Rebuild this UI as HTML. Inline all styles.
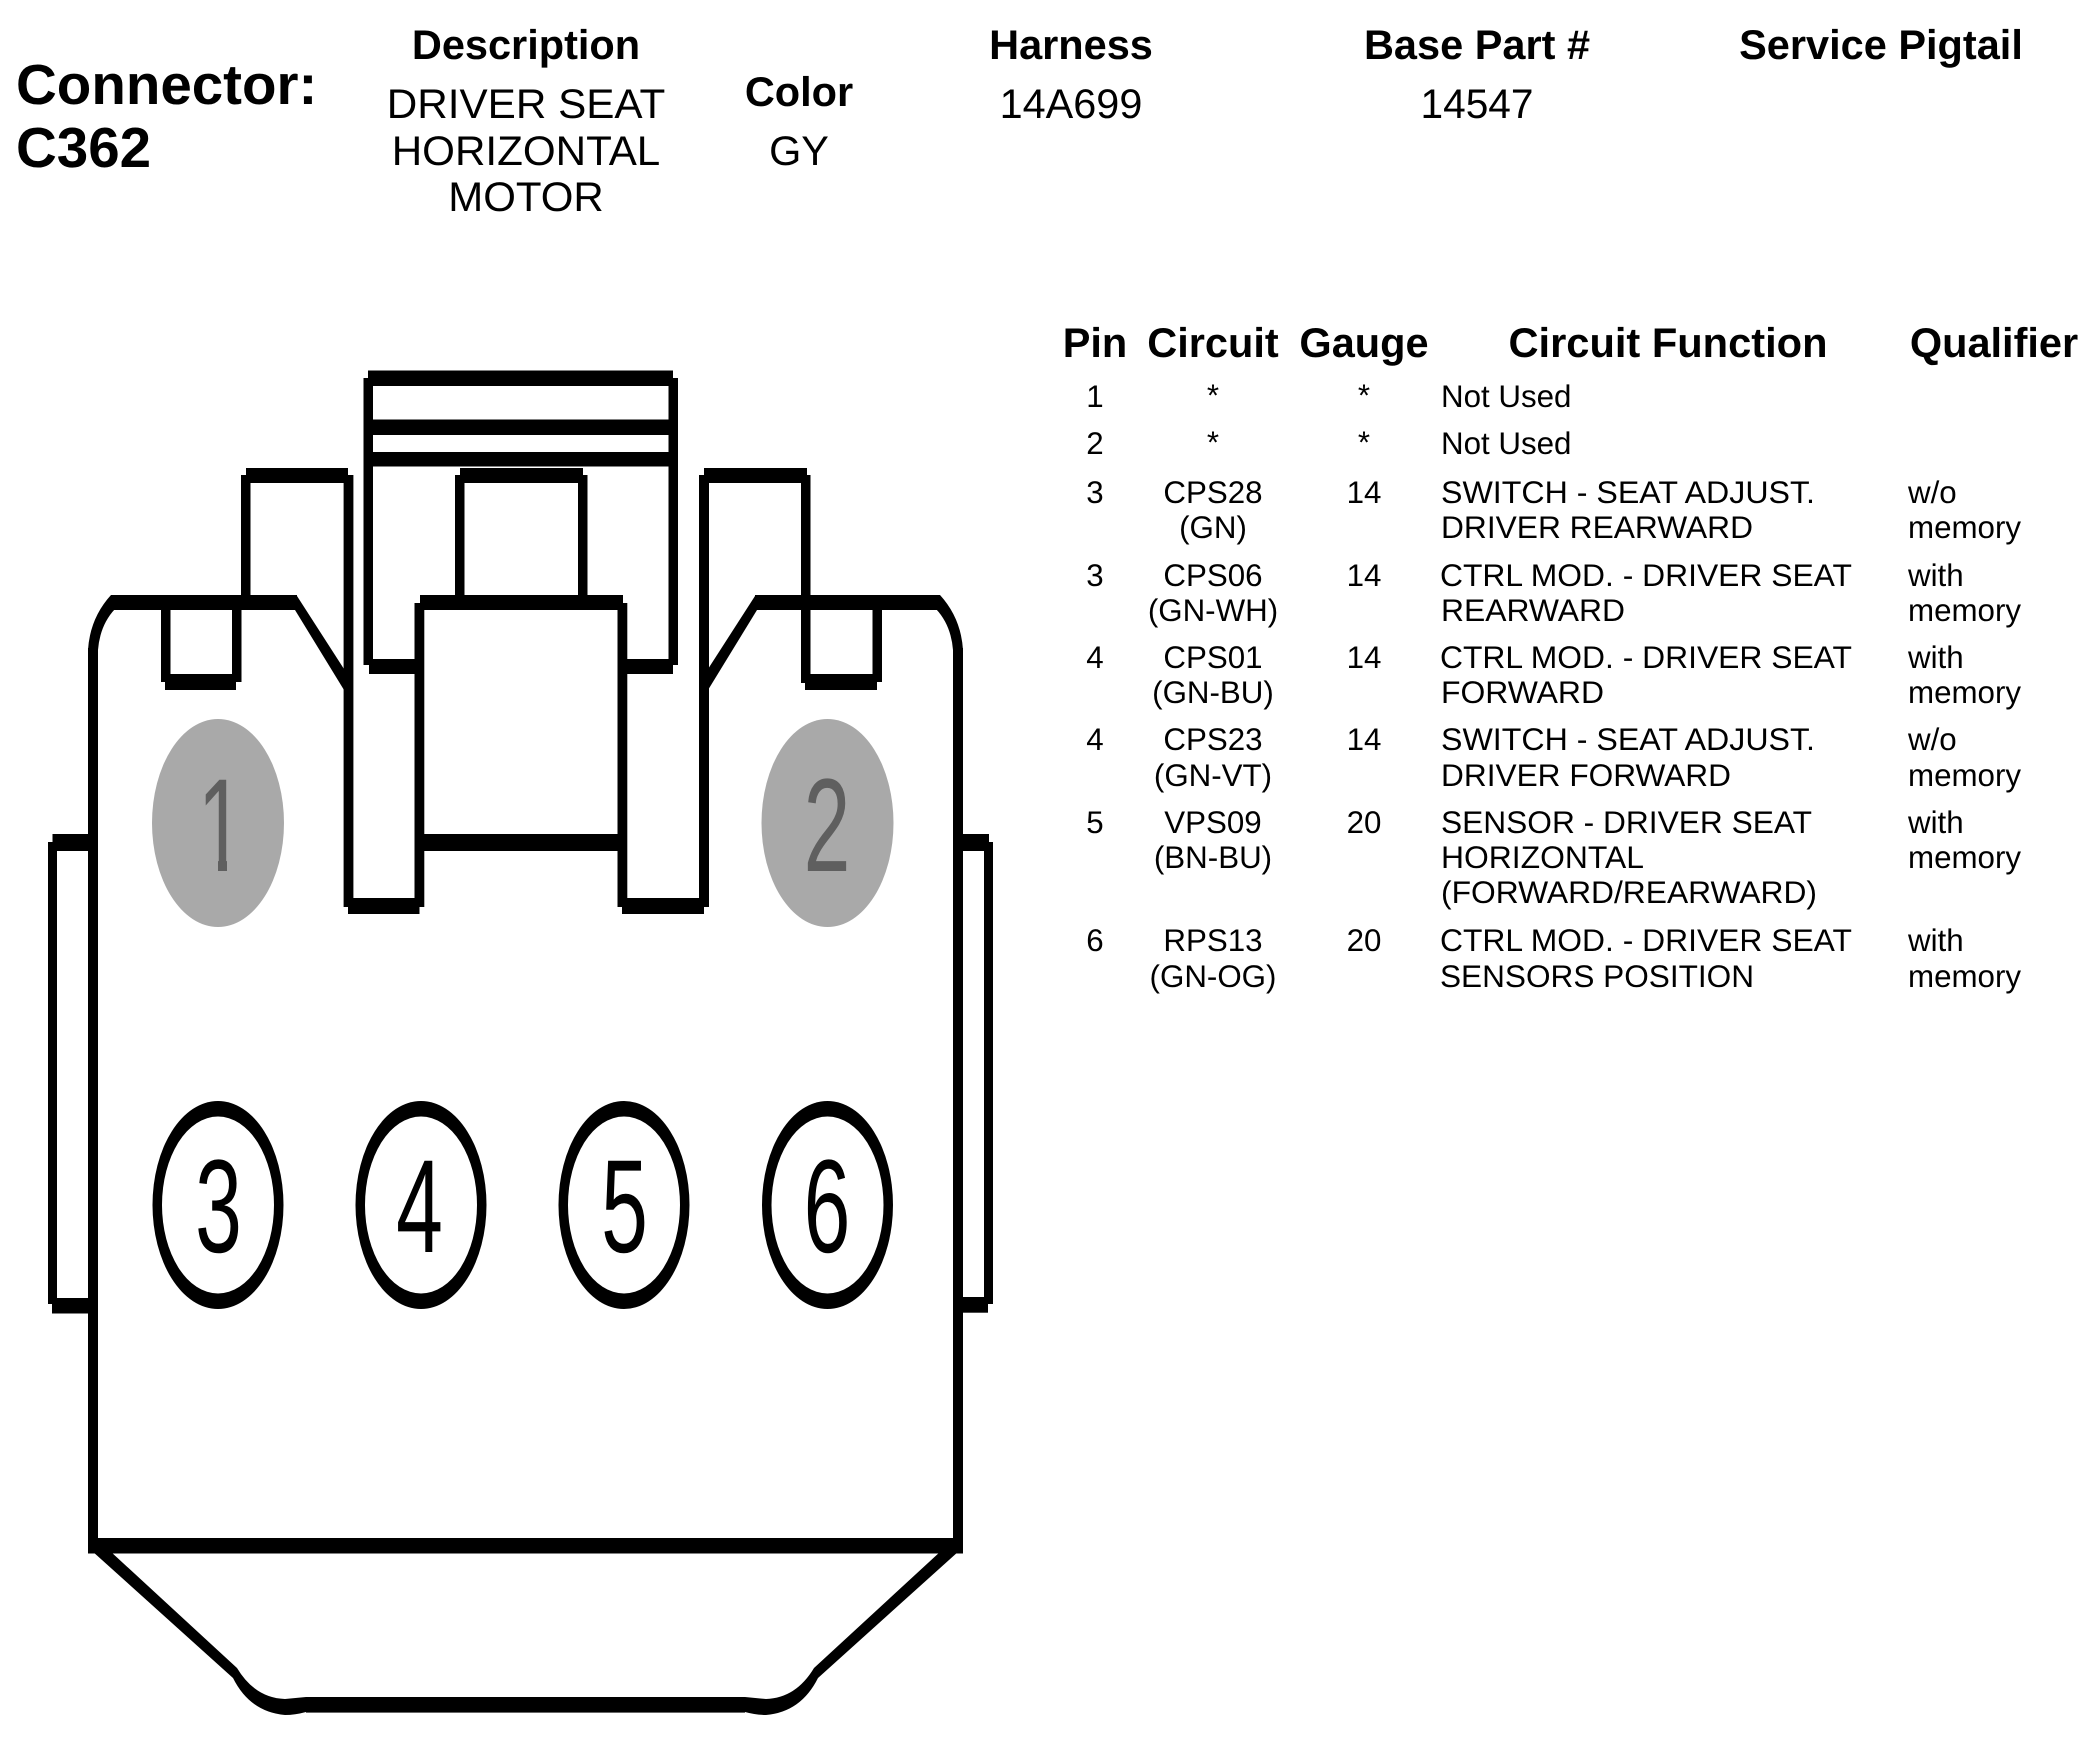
<!DOCTYPE html>
<html>
<head>
<meta charset="utf-8">
<title>Connector C362</title>
<style>
html,body{margin:0;padding:0;background:#fff;width:2097px;height:1745px;overflow:hidden}
svg{display:block}
text{font-family:"Liberation Sans",Arial,sans-serif;fill:#000;text-rendering:geometricPrecision}
.h{font-weight:bold;font-size:41.5px;text-anchor:middle}
.v{font-size:41.4px;text-anchor:middle}
.c{font-size:56.5px;font-weight:bold}
.t{font-size:31.3px}
.m{font-size:31.3px;text-anchor:middle}
.d{font-size:84px;text-anchor:middle}
.g{fill:#5f5f5f}
</style>
</head>
<body>
<svg width="2097" height="1745" viewBox="0 0 2097 1745" xmlns="http://www.w3.org/2000/svg">
<rect width="2097" height="1745" fill="#fff"/>

<!-- Header -->
<text class="c" x="16" y="104">Connector:</text>
<text class="c" x="16" y="167">C362</text>
<text class="h" x="526" y="59">Description</text>
<text class="v" x="526" y="118" textLength="278.5" lengthAdjust="spacingAndGlyphs">DRIVER SEAT</text>
<text class="v" x="526" y="165" textLength="268.5" lengthAdjust="spacingAndGlyphs">HORIZONTAL</text>
<text class="v" x="526" y="211" textLength="155.5" lengthAdjust="spacingAndGlyphs">MOTOR</text>
<text class="h" x="799" y="106">Color</text>
<text class="v" x="799" y="165">GY</text>
<text class="h" x="1071" y="59">Harness</text>
<text class="v" x="1071" y="118">14A699</text>
<text class="h" x="1477" y="59">Base Part #</text>
<text class="v" x="1477" y="118" textLength="113" lengthAdjust="spacingAndGlyphs">14547</text>
<text class="h" x="1881" y="59">Service Pigtail</text>

<!-- Table header -->
<text class="h" x="1095" y="357">Pin</text>
<text class="h" x="1213" y="357">Circuit</text>
<text class="h" x="1364" y="357">Gauge</text>
<text class="h" x="1668" y="357" textLength="319" lengthAdjust="spacingAndGlyphs">Circuit Function</text>
<text class="h" x="1994" y="357">Qualifier</text>

<!-- Table rows -->
<text class="m" x="1095" y="407">1</text><text class="m" x="1213" y="406">*</text><text class="m" x="1364" y="406">*</text><text class="t" x="1441" y="407">Not Used</text>
<text class="m" x="1095" y="454">2</text><text class="m" x="1213" y="453">*</text><text class="m" x="1364" y="453">*</text><text class="t" x="1441" y="454">Not Used</text>

<text class="m" x="1095" y="503">3</text><text class="m" x="1213" y="503">CPS28</text><text class="m" x="1364" y="503">14</text><text class="t" x="1441" y="503" textLength="374" lengthAdjust="spacingAndGlyphs">SWITCH - SEAT ADJUST.</text><text class="t" x="1908" y="503">w/o</text>
<text class="m" x="1213" y="538">(GN)</text><text class="t" x="1441" y="538" textLength="312" lengthAdjust="spacingAndGlyphs">DRIVER REARWARD</text><text class="t" x="1908" y="538">memory</text>

<text class="m" x="1095" y="586">3</text><text class="m" x="1213" y="586">CPS06</text><text class="m" x="1364" y="586">14</text><text class="t" x="1440" y="586" textLength="412" lengthAdjust="spacingAndGlyphs">CTRL MOD. - DRIVER SEAT</text><text class="t" x="1908" y="586">with</text>
<text class="m" x="1213" y="621">(GN-WH)</text><text class="t" x="1441" y="621" textLength="184" lengthAdjust="spacingAndGlyphs">REARWARD</text><text class="t" x="1908" y="621">memory</text>

<text class="m" x="1095" y="668">4</text><text class="m" x="1213" y="668">CPS01</text><text class="m" x="1364" y="668">14</text><text class="t" x="1440" y="668" textLength="412" lengthAdjust="spacingAndGlyphs">CTRL MOD. - DRIVER SEAT</text><text class="t" x="1908" y="668">with</text>
<text class="m" x="1213" y="703">(GN-BU)</text><text class="t" x="1441" y="703" textLength="163" lengthAdjust="spacingAndGlyphs">FORWARD</text><text class="t" x="1908" y="703">memory</text>

<text class="m" x="1095" y="750">4</text><text class="m" x="1213" y="750">CPS23</text><text class="m" x="1364" y="750">14</text><text class="t" x="1441" y="750" textLength="374" lengthAdjust="spacingAndGlyphs">SWITCH - SEAT ADJUST.</text><text class="t" x="1908" y="750">w/o</text>
<text class="m" x="1213" y="786">(GN-VT)</text><text class="t" x="1441" y="786" textLength="290" lengthAdjust="spacingAndGlyphs">DRIVER FORWARD</text><text class="t" x="1908" y="786">memory</text>

<text class="m" x="1095" y="833">5</text><text class="m" x="1213" y="833">VPS09</text><text class="m" x="1364" y="833">20</text><text class="t" x="1441" y="833" textLength="371" lengthAdjust="spacingAndGlyphs">SENSOR - DRIVER SEAT</text><text class="t" x="1908" y="833">with</text>
<text class="m" x="1213" y="868">(BN-BU)</text><text class="t" x="1441" y="868" textLength="203" lengthAdjust="spacingAndGlyphs">HORIZONTAL</text><text class="t" x="1908" y="868">memory</text>
<text class="t" x="1441" y="903" textLength="376" lengthAdjust="spacingAndGlyphs">(FORWARD/REARWARD)</text>

<text class="m" x="1095" y="951">6</text><text class="m" x="1213" y="951">RPS13</text><text class="m" x="1364" y="951">20</text><text class="t" x="1440" y="951" textLength="412" lengthAdjust="spacingAndGlyphs">CTRL MOD. - DRIVER SEAT</text><text class="t" x="1908" y="951">with</text>
<text class="m" x="1213" y="987">(GN-OG)</text><text class="t" x="1440" y="987" textLength="314" lengthAdjust="spacingAndGlyphs">SENSORS POSITION</text><text class="t" x="1908" y="987">memory</text>

<!-- Connector drawing -->
<g fill="#000">
  <!-- top tab -->
  <rect x="363.5" y="378" width="9.5" height="287"/>
  <rect x="668.5" y="378" width="9.5" height="287"/>
  <rect x="368" y="370.5" width="305" height="15.5"/>
  <rect x="363.5" y="419.5" width="314.5" height="15.5"/>
  <rect x="363.5" y="452" width="314.5" height="14.5"/>
  <rect x="369" y="659" width="46" height="15"/>
  <rect x="626" y="659" width="47" height="15"/>
  <!-- small centre -->
  <rect x="455" y="475" width="9.5" height="122"/>
  <rect x="578" y="475" width="9.5" height="122"/>
  <rect x="460" y="468" width="123" height="15"/>
  <!-- left tall -->
  <rect x="241" y="475" width="9.5" height="122"/>
  <rect x="343.6" y="475" width="9.8" height="432"/>
  <rect x="246" y="468" width="102" height="15"/>
  <!-- right tall -->
  <rect x="699" y="475" width="10" height="432"/>
  <rect x="801" y="475" width="9.5" height="208"/>
  <rect x="704" y="468" width="103" height="15"/>
  <!-- body top -->
  <rect x="114" y="595" width="183" height="15"/>
  <rect x="420" y="595" width="203" height="15"/>
  <rect x="755" y="595" width="183" height="15"/>
  <!-- centre box -->
  <rect x="414.5" y="603" width="9.8" height="304"/>
  <rect x="617.5" y="603" width="9.8" height="304"/>
  <rect x="424" y="834" width="194" height="17"/>
  <rect x="348" y="898" width="71.5" height="16"/>
  <rect x="622" y="898" width="82" height="16"/>
  <!-- notches -->
  <rect x="161" y="603" width="9.5" height="79"/>
  <rect x="232" y="603" width="9.5" height="79"/>
  <rect x="165" y="674" width="71" height="16"/>
  <rect x="872.5" y="603" width="9.5" height="79"/>
  <rect x="805" y="674" width="72" height="16"/>
  <!-- diagonals -->
  <polygon points="297,596 353,683 353,690 344,690 295,610 290,600"/>
  <polygon points="755,596 699,683 699,690 708,690 757,610 762,600"/>
  <!-- body sides -->
  <path d="M111 595 L116 595 L116 609 L115 609 Q100 625 98 650 L88 650 Q90 618 111 595 Z"/>
  <path d="M940 595 L935 595 L935 609 L936 609 Q951 625 953 650 L963 650 Q961 618 940 595 Z"/>
  <rect x="88" y="648" width="10" height="897"/>
  <rect x="953" y="648" width="10" height="897"/>
  <rect x="88" y="1538" width="875" height="15.5"/>
  <!-- side tabs -->
  <rect x="48" y="842" width="9" height="462"/>
  <rect x="52.5" y="834" width="36" height="17"/>
  <rect x="52" y="1298" width="37" height="15.5"/>
  <rect x="984" y="842" width="9" height="462"/>
  <rect x="962" y="834" width="27" height="17"/>
  <rect x="962" y="1297" width="26" height="15.7"/>
  <!-- bottom shroud -->
  <path d="M92 1551 L110 1551 L237 1668 Q255 1698 285 1699 L306 1697 L306 1712 Q295 1715 285 1715 Q250 1712 233 1678 Z"/>
  <path d="M959 1551 L941 1551 L814 1668 Q796 1698 766 1699 L745 1697 L745 1712 Q756 1715 766 1715 Q801 1712 818 1678 Z"/>
  <rect x="306" y="1697" width="439" height="15.6"/>
</g>

<!-- Unused pins -->
<ellipse cx="218" cy="823" rx="66" ry="104" fill="#a9a9a9"/>
<ellipse cx="827.5" cy="823" rx="66" ry="104" fill="#a9a9a9"/>
<text class="d g" transform="translate(221 871) scale(1 1.58)">1</text>
<rect x="190" y="859" width="28" height="14" fill="#a9a9a9"/>
<rect x="227" y="859" width="28" height="14" fill="#a9a9a9"/>
<text class="d g" transform="translate(827 871) scale(1 1.58)">2</text>

<!-- Used pins -->
<g>
  <ellipse cx="218" cy="1205" rx="65.5" ry="104" fill="#000"/><ellipse cx="218" cy="1205" rx="56" ry="88.5" fill="#fff"/>
  <ellipse cx="421" cy="1205" rx="65.5" ry="104" fill="#000"/><ellipse cx="421" cy="1205" rx="56" ry="88.5" fill="#fff"/>
  <ellipse cx="624" cy="1205" rx="65.5" ry="104" fill="#000"/><ellipse cx="624" cy="1205" rx="56" ry="88.5" fill="#fff"/>
  <ellipse cx="827.5" cy="1205" rx="65.5" ry="104" fill="#000"/><ellipse cx="827.5" cy="1205" rx="56" ry="88.5" fill="#fff"/>
</g>
<text class="d" transform="translate(218.5 1252) scale(1 1.58)">3</text>
<text class="d" transform="translate(419.5 1252) scale(1 1.58)">4</text>
<text class="d" transform="translate(624.5 1252) scale(1 1.58)">5</text>
<text class="d" transform="translate(827 1252) scale(1 1.58)">6</text>
</svg>
</body>
</html>
